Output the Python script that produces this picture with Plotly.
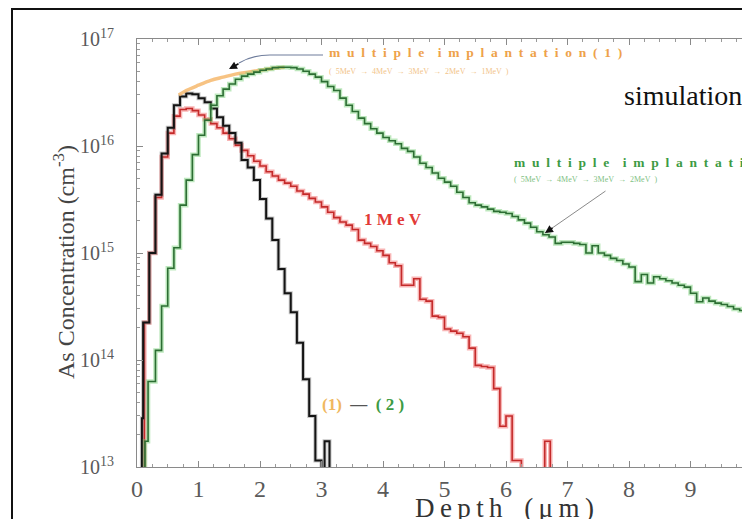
import plotly.graph_objects as go

# ---- data: As depth profiles (histogram bins, left edges in um) ----
depth_diff = [0.0, 0.08, 0.1, 0.2, 0.3, 0.4, 0.5, 0.6, 0.7, 0.8, 0.9, 1.0, 1.1, 1.2, 1.3, 1.4,
              1.5, 1.6, 1.7, 1.8, 1.9, 2.0, 2.1, 2.2, 2.3, 2.4, 2.5, 2.6, 2.7, 2.8, 2.9,
              3.0, 3.05, 3.13, 3.2]
conc_diff = [1e12, 2.85e13, 2.24e14, 1.0e15, 3.5e15, 8.5e15, 1.48e16, 2.4e16, 2.9e16, 3.1e16,
             3.05e16, 2.8e16, 2.57e16, 2.24e16, 1.86e16, 1.55e16, 1.32e16, 1.07e16, 7.4e15,
             6.3e15, 4.8e15, 3.2e15, 2.1e15, 1.32e15, 7.1e14, 4.2e14, 2.8e14, 1.45e14,
             6.6e13, 3.0e13, 1.15e13, 1e12, 1.74e13, 1e12, 1e12]

depth_1mev = [0.0, 0.12, 0.2, 0.3, 0.4, 0.5, 0.6, 0.7, 0.8, 0.9, 1.0, 1.1, 1.2, 1.3, 1.4, 1.5,
              1.6, 1.7, 1.8, 1.9, 2.0, 2.1, 2.2, 2.3, 2.4, 2.5, 2.6, 2.7, 2.8, 2.9, 3.0,
              3.1, 3.2, 3.3, 3.4, 3.5, 3.6, 3.7, 3.8, 3.9, 4.0, 4.1, 4.2, 4.3, 4.4, 4.5,
              4.6, 4.7, 4.8, 4.9, 5.0, 5.1, 5.2, 5.3, 5.4, 5.5, 5.6, 5.7, 5.8, 5.9, 6.0,
              6.1, 6.25, 6.63, 6.72, 6.8]
conc_1mev = [1e12, 2.24e14, 1.0e15, 3.3e15, 7.9e15, 1.32e16, 1.9e16, 2.19e16, 2.24e16, 2.14e16,
             1.95e16, 1.78e16, 1.62e16, 1.48e16, 1.32e16, 1.17e16, 1.02e16, 9.1e15, 8.1e15,
             7.2e15, 6.5e15, 5.75e15, 5.25e15, 4.8e15, 4.5e15, 4.2e15, 3.8e15, 3.55e15,
             3.24e15, 3.0e15, 2.7e15, 2.4e15, 2.14e15, 1.95e15, 1.82e15, 1.66e15, 1.32e15,
             1.23e15, 1.15e15, 1.05e15, 9.5e14, 8.1e14, 7.6e14, 5.0e14, 5.0e14, 5.75e14,
             3.7e14, 3.55e14, 2.57e14, 2.5e14, 1.95e14, 1.86e14, 1.78e14, 1.65e14, 1.29e14,
             8.9e13, 8.7e13, 8.5e13, 5.4e13, 2.4e13, 3.0e13, 1.15e13, 1e12, 1.74e13, 1e12, 1e12]

depth_multi2 = [0.0, 0.13, 0.18, 0.3, 0.4, 0.5, 0.6, 0.7, 0.8, 0.9, 1.0, 1.1, 1.2, 1.3, 1.4,
                1.5, 1.6, 1.7, 1.8, 1.9, 2.0, 2.1, 2.2, 2.3, 2.4, 2.5, 2.6, 2.7, 2.8, 2.9,
                3.0, 3.1, 3.2, 3.3, 3.4, 3.5, 3.6, 3.7, 3.8, 3.9, 4.0, 4.1, 4.2, 4.3, 4.4,
                4.5, 4.6, 4.7, 4.8, 4.9, 5.0, 5.1, 5.2, 5.3, 5.4, 5.5, 5.6, 5.7, 5.8, 5.9,
                6.0, 6.1, 6.2, 6.3, 6.4, 6.5, 6.6, 6.7, 6.8, 6.9, 7.0, 7.1, 7.2, 7.3, 7.4,
                7.5, 7.6, 7.7, 7.8, 7.9, 8.0, 8.1, 8.2, 8.3, 8.4, 8.5, 8.6, 8.7, 8.8, 8.9,
                9.0, 9.1, 9.2, 9.3, 9.4, 9.5, 9.6, 9.7, 9.8, 9.9]
conc_multi2 = [1e12, 1.74e13, 6.3e13, 1.23e14, 3.2e14, 7.2e14, 1.12e15, 2.8e15, 4.8e15, 8.3e15,
               1.26e16, 1.74e16, 2.4e16, 2.95e16, 3.4e16, 3.8e16, 4.2e16, 4.5e16, 4.7e16,
               4.9e16, 5.1e16, 5.25e16, 5.4e16, 5.45e16, 5.45e16, 5.4e16, 5.25e16, 5.0e16,
               4.7e16, 4.4e16, 4.0e16, 3.6e16, 3.3e16, 2.8e16, 2.4e16, 2.1e16, 1.82e16,
               1.62e16, 1.45e16, 1.32e16, 1.2e16, 1.12e16, 1.05e16, 9.5e15, 8.9e15, 7.9e15,
               6.9e15, 6.3e15, 5.6e15, 5.0e15, 4.6e15, 4.2e15, 3.7e15, 3.3e15, 2.95e15,
               2.8e15, 2.7e15, 2.57e15, 2.45e15, 2.4e15, 2.34e15, 2.19e15, 2.04e15, 1.9e15,
               1.74e15, 1.58e15, 1.48e15, 1.41e15, 1.23e15, 1.26e15, 1.26e15, 1.23e15,
               1.2e15, 1.0e15, 1.17e15, 1.0e15, 9.5e14, 8.9e14, 8.5e14, 7.9e14, 7.4e14,
               5.4e14, 6.3e14, 5.25e14, 6.0e14, 5.75e14, 5.5e14, 5.25e14, 5.0e14, 4.8e14,
               4.2e14, 3.5e14, 3.8e14, 3.55e14, 3.4e14, 3.3e14, 3.16e14, 3.0e14, 2.9e14, 2.8e14]

depth_multi1 = [0.68, 0.8, 1.0, 1.2, 1.4, 1.6, 1.8, 2.0, 2.2, 2.4]
conc_multi1 = [3.0e16, 3.3e16, 3.7e16, 4.1e16, 4.4e16, 4.7e16, 4.9e16, 5.1e16, 5.3e16, 5.45e16]

y_tick_vals = [1e13, 1e14, 1e15, 1e16, 1e17]
y_tick_text = ["10<sup>13</sup>", "10<sup>14</sup>", "10<sup>15</sup>",
               "10<sup>16</sup>", "10<sup>17</sup>"]
x_tick_vals = [0, 1, 2, 3, 4, 5, 6, 7, 8, 9]

# ---- layout geometry (pixels) ----
W, H = 742, 519
L, R, T, B = 137, 0, 39, 52
PW, PH = W - L - R, H - T - B


def px(x):
    return (x - L) / PW


def py(y):
    return (H - B - y) / PH


SERIF = "Liberation Serif"
ORANGE = "#eea24a"
GREEN = "#3d9b44"
RED = "#e23a36"

fig = go.Figure()

# 1 MeV (red) with soft halo
fig.add_trace(go.Scatter(x=depth_1mev, y=conc_1mev, mode="lines", line_shape="hv",
                         line=dict(color="rgba(240,90,90,0.45)", width=4.5)))
fig.add_trace(go.Scatter(x=depth_1mev, y=conc_1mev, mode="lines", line_shape="hv",
                         line=dict(color="#c42a2a", width=1.6)))
# (1) - (2) (black)
fig.add_trace(go.Scatter(x=depth_diff, y=conc_diff, mode="lines", line_shape="hv",
                         line=dict(color="rgba(90,90,90,0.35)", width=4)))
fig.add_trace(go.Scatter(x=depth_diff, y=conc_diff, mode="lines", line_shape="hv",
                         line=dict(color="#141414", width=2)))
# multiple implantation (1) envelope (orange)
fig.add_trace(go.Scatter(x=depth_multi1, y=conc_multi1, mode="lines", line_shape="spline",
                         line=dict(color="rgba(245,180,100,0.8)", width=3.5)))
# multiple implantation (2) (green)
fig.add_trace(go.Scatter(x=depth_multi2, y=conc_multi2, mode="lines", line_shape="hv",
                         line=dict(color="rgba(110,205,110,0.45)", width=4.5)))
fig.add_trace(go.Scatter(x=depth_multi2, y=conc_multi2, mode="lines", line_shape="hv",
                         line=dict(color="#2c6e33", width=1.6)))

axis_common = dict(showgrid=False, zeroline=False, showline=True, linecolor="#8a8a8a",
                   linewidth=1, ticks="inside", tickcolor="#8a8a8a", ticklen=6,
                   tickwidth=1)

fig.update_xaxes(range=[0, PW / 61.5], tickvals=x_tick_vals, mirror="ticks",
                 tickfont=dict(family=SERIF, size=24, color="#5a5a5a"),
                 ticklabelstandoff=0,
                 minor=dict(dtick=0.25, ticks="inside", ticklen=3, tickcolor="#9a9a9a"),
                 **axis_common)
fig.update_yaxes(type="log", range=[13, 17], tickvals=y_tick_vals, ticktext=y_tick_text,
                 tickfont=dict(family=SERIF, size=20, color="#5a5a5a"),
                 ticklabelstandoff=18,
                 minor=dict(dtick="D1", ticks="inside", ticklen=3, tickcolor="#9a9a9a",
                            showgrid=False),
                 **axis_common)


def note(x, y, text, size, color, xanchor="left", yanchor="middle", **kw):
    return dict(x=px(x), y=py(y), xref="paper", yref="paper", showarrow=False,
                xanchor=xanchor, yanchor=yanchor, text=text,
                font=dict(family=SERIF, size=size, color=color), **kw)


def spaced(s):
    return "\u2002".join(s)


WORD_GAP = "\u2002\u2002"

ann = []
# axis titles
ann.append(note(64, 262, "As Concentration (cm<sup>-3</sup>)", 24, "#444444",
                xanchor="center", textangle=-90))
ann.append(note(505, 491,
                "D\u2009e\u2009p\u2009t\u2009h\u2009\u2009\u2009\u2009(\u2009\u03bc\u2009m\u2009)",
                27, "#333333", xanchor="center", yanchor="top"))

ann.append(note(622, 95, "simulation", 28, "#111111"))

ann.append(note(327, 53, "<b>" + spaced("multiple") + WORD_GAP +
                spaced("implantation(1)") + "</b>", 13.5, ORANGE))
ann.append(note(327, 71,
                "(\u20025MeV\u2002\u2192\u20024MeV\u2002\u2192\u20023MeV\u2002\u2192\u20022MeV\u2002\u2192\u20021MeV\u2002)",
                8, "#f2c48a"))

ann.append(note(512, 162, "<b>" + spaced("multiple") + WORD_GAP +
                spaced("implantation") + "</b>", 13.5, GREEN))
ann.append(note(512, 179,
                "(\u20025MeV\u2002\u2192\u20024MeV\u2002\u2192\u20023MeV\u2002\u2192\u20022MeV\u2002)",
                8, "#7fbf84"))

ann.append(note(362, 219, "<b>1\u00a0M\u00a0e\u00a0V</b>", 17, RED))

ann.append(note(320, 404,
                "<b><span style='color:#f0b860'>(1)</span>\u00a0\u00a0\u2014\u00a0\u00a0"
                "<span style='color:#3d9b44'>(\u00a02\u00a0)</span></b>", 17, "#555555"))

# arrows
ann.append(dict(x=px(229), y=py(69), xref="paper", yref="paper", text="", showarrow=True,
                ax=11, ay=-6, arrowhead=2, arrowsize=1, arrowwidth=1.6, arrowcolor="#111111",
                standoff=0))
ann.append(dict(x=px(545), y=py(233), xref="paper", yref="paper", text="", showarrow=True,
                ax=62, ay=-43, arrowhead=0, arrowwidth=1, arrowcolor="#8a8a8a", standoff=0))
ann.append(dict(x=px(545), y=py(233), xref="paper", yref="paper", text="", showarrow=True,
                ax=9, ay=-6, arrowhead=2, arrowsize=1, arrowwidth=1.6, arrowcolor="#111111",
                standoff=0))

shapes = [
    # curved leader for the orange label
    dict(type="path", xref="paper", yref="paper",
         path=f"M {px(239)} {py(63)} Q {px(252)} {py(55)} {px(270)} {py(55)} L {px(323)} {py(55)}",
         line=dict(color="#6f7d9c", width=1.2)),
    # outer frame
    dict(type="rect", xref="paper", yref="paper", x0=px(12), y0=py(9), x1=px(760), y1=py(540),
         line=dict(color="#111111", width=2), fillcolor="rgba(0,0,0,0)"),
]

fig.update_layout(width=W, height=H, margin=dict(l=L, r=R, t=T, b=B),
                  paper_bgcolor="white", plot_bgcolor="white", showlegend=False,
                  hovermode=False, annotations=ann, shapes=shapes)

fig.write_html("out.html")
